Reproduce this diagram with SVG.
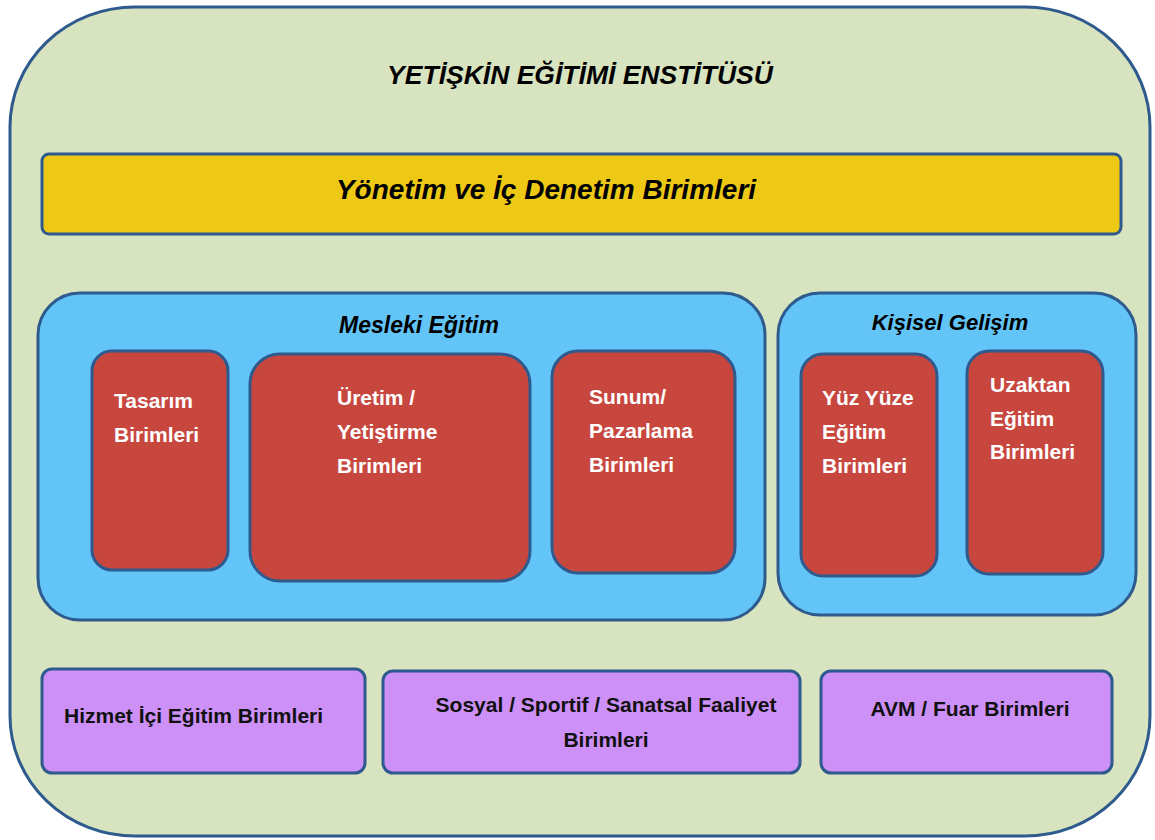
<svg xmlns="http://www.w3.org/2000/svg" width="1155" height="840" viewBox="0 0 1155 840">
  <style>
    .frame { stroke: #2E5A8E; stroke-width: 3; }
    .outer { fill: #D8E3BF; }
    .bar { fill: #EDC916; }
    .group { fill: #62C4F7; }
    .unit { fill: #C7473F; }
    .side { fill: #CD90F6; }
    text { font-family: "Liberation Sans", Arial, sans-serif; font-weight: bold; }
    .hd { font-style: italic; fill: #000; }
    .w { fill: #fff; font-size: 21px; }
    .k { fill: #111; font-size: 21px; }
  </style>

  <!-- institute frame -->
  <g id="institute">
    <rect class="outer frame" x="10" y="7" width="1140" height="829" rx="125" ry="120"/>
    <text class="hd" x="580" y="84" font-size="26.5" text-anchor="middle">YETİŞKİN EĞİTİMİ ENSTİTÜSÜ</text>
  </g>

  <!-- management bar -->
  <g id="yonetim">
    <rect class="bar frame" x="42" y="154" width="1079" height="80" rx="7"/>
    <text class="hd" x="546" y="199" font-size="28" text-anchor="middle">Yönetim ve İç Denetim Birimleri</text>
  </g>

  <!-- vocational training group -->
  <g id="mesleki">
    <rect class="group frame" x="38" y="293" width="727" height="327" rx="42"/>
    <text class="hd" x="419" y="333" font-size="23" text-anchor="middle">Mesleki Eğitim</text>
  </g>
  <g id="tasarim">
    <rect class="unit frame" x="92" y="351" width="136" height="219" rx="20"/>
    <text class="w" x="114" y="408">Tasarım</text>
    <text class="w" x="114" y="442">Birimleri</text>
  </g>
  <g id="uretim">
    <rect class="unit frame" x="250" y="354" width="280" height="227" rx="30"/>
    <text class="w" x="337" y="405">Üretim /</text>
    <text class="w" x="337" y="439">Yetiştirme</text>
    <text class="w" x="337" y="473">Birimleri</text>
  </g>
  <g id="sunum">
    <rect class="unit frame" x="552" y="351" width="183" height="222" rx="26"/>
    <text class="w" x="589" y="404">Sunum/</text>
    <text class="w" x="589" y="438">Pazarlama</text>
    <text class="w" x="589" y="472">Birimleri</text>
  </g>

  <!-- personal development group -->
  <g id="kisisel">
    <rect class="group frame" x="778" y="293" width="358" height="322" rx="42"/>
    <text class="hd" x="950" y="330" font-size="22" text-anchor="middle">Kişisel Gelişim</text>
  </g>
  <g id="yuzyuze">
    <rect class="unit frame" x="801" y="354" width="136" height="222" rx="22"/>
    <text class="w" x="822" y="405">Yüz Yüze</text>
    <text class="w" x="822" y="439">Eğitim</text>
    <text class="w" x="822" y="473">Birimleri</text>
  </g>
  <g id="uzaktan">
    <rect class="unit frame" x="967" y="351" width="136" height="223" rx="22"/>
    <text class="w" x="990" y="392">Uzaktan</text>
    <text class="w" x="990" y="426">Eğitim</text>
    <text class="w" x="990" y="459">Birimleri</text>
  </g>

  <!-- support units -->
  <g id="hizmetici">
    <rect class="side frame" x="42" y="669" width="323" height="104" rx="10"/>
    <text class="k" x="64" y="723">Hizmet İçi Eğitim Birimleri</text>
  </g>
  <g id="sosyal">
    <rect class="side frame" x="383" y="671" width="417" height="102" rx="10"/>
    <text class="k" x="606" y="712" text-anchor="middle">Sosyal / Sportif / Sanatsal Faaliyet</text>
    <text class="k" x="606" y="747" text-anchor="middle">Birimleri</text>
  </g>
  <g id="avm">
    <rect class="side frame" x="821" y="671" width="291" height="102" rx="10"/>
    <text class="k" x="970" y="716" font-size="21.5" text-anchor="middle">AVM / Fuar Birimleri</text>
  </g>

  <!-- no connectors: the diagram is purely nested containers -->
  <g id="connectors"/>
</svg>
